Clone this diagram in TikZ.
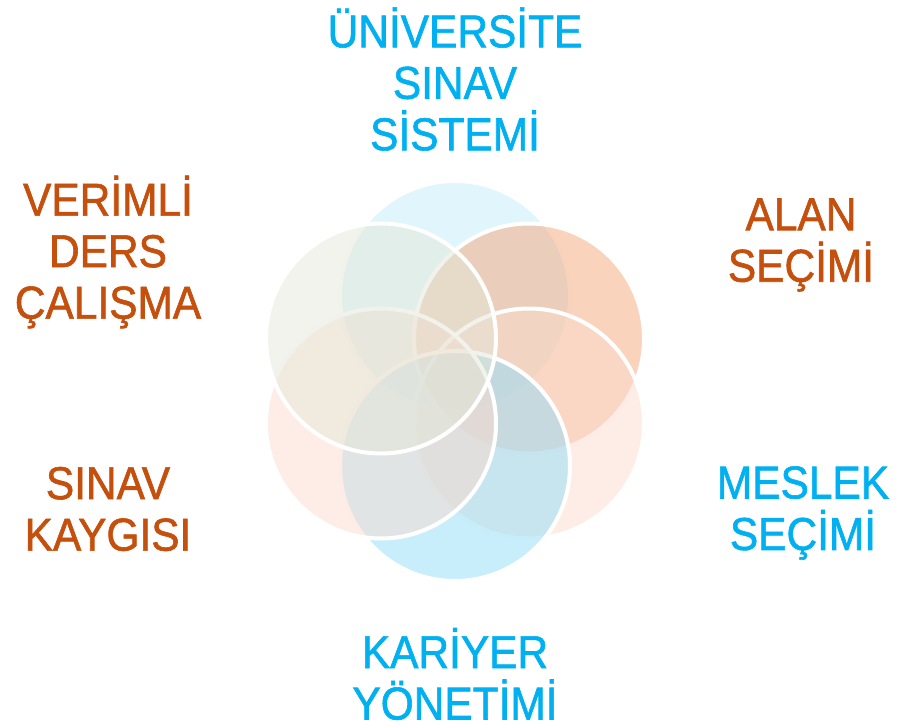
\documentclass[tikz,border=0pt]{standalone}
\usepackage{fontspec}
\newfontfamily\labelfont{Liberation Sans}[FakeStretch=0.92,FakeBold=1.3]
\definecolor{cTop}{RGB}{193,235,249}
\definecolor{cUR}{RGB}{245,167,121}
\definecolor{cLR}{RGB}{251,219,205}
\definecolor{cBot}{RGB}{145,221,249}
\definecolor{cLL}{RGB}{251,219,205}
\definecolor{cUL}{RGB}{227,231,217}
\definecolor{txtBlue}{RGB}{0,176,240}
\definecolor{txtOrange}{RGB}{197,80,13}
\tikzset{
  petal/.style={circle, draw=white, line width=3pt, fill=#1, fill opacity=0.5,
    draw opacity=1, minimum size=172.5pt, inner sep=0pt, outer sep=0pt},
  lbl/.style={align=center, inner sep=0pt, text=#1,
    font=\labelfont\fontsize{34.6pt}{38.6pt}\selectfont}
}
\begin{document}
\begin{tikzpicture}[x=0.75pt,y=-0.75pt]
\useasboundingbox (0,0) rectangle (897,728);
% circles (clockwise from top)
\node[petal=cTop] (ctop) at (455,296) {};
\node[petal=cUR]  (cur)  at (529,338.5) {};
\node[petal=cLR]  (clr)  at (529,423.5) {};
\node[petal=cBot] (cbot) at (455,466) {};
\node[petal=cLL]  (cll)  at (381,423.5) {};
\node[petal=cUL]  (cul)  at (381,338.5) {};
% labels
\node[lbl=txtBlue]   (ltop) at (455,79)  {ÜNİVERSİTE\\SINAV\\SİSTEMİ};
\node[lbl=txtOrange] (lalan) at (801,245) {ALAN\\SEÇİMİ};
\node[lbl=txtOrange] (lver) at (108,252) {VERİMLİ\\DERS\\ÇALIŞMA};
\node[lbl=txtOrange] (lsin) at (108,509) {SINAV\\KAYGISI};
\node[lbl=txtBlue]   (lmes) at (803,513) {MESLEK\\SEÇİMİ};
\node[lbl=txtBlue]   (lkar) at (455,674) {KARİYER\\YÖNETİMİ};
\end{tikzpicture}
\end{document}
